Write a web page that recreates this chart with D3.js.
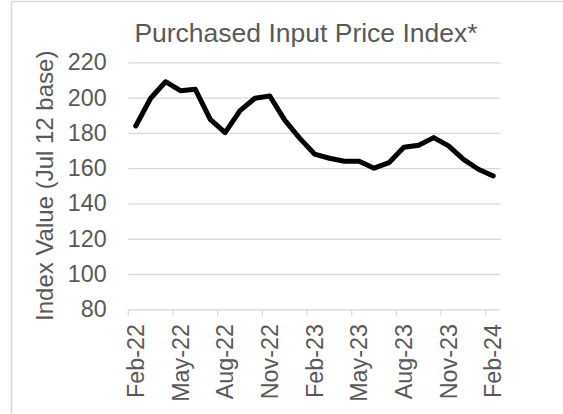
<!DOCTYPE html>
<html>
<head>
<meta charset="utf-8">
<script src="https://cdn.jsdelivr.net/npm/d3@7"></script>
<style>
  html, body { margin: 0; padding: 0; background: #fff; }
  svg { display: block; font-family: "Liberation Sans", Arial, sans-serif; }
</style>
</head>
<body>
<script>
// Monthly index values, Feb-22 .. Feb-24
const months = ["Feb-22","Mar-22","Apr-22","May-22","Jun-22","Jul-22","Aug-22","Sep-22","Oct-22","Nov-22","Dec-22",
                "Jan-23","Feb-23","Mar-23","Apr-23","May-23","Jun-23","Jul-23","Aug-23","Sep-23","Oct-23","Nov-23","Dec-23",
                "Jan-24","Feb-24"];
const values = [183.9, 199.6, 209.0, 203.9, 204.7, 187.7, 180.1, 192.6, 199.6, 200.9, 187.2,
                177.0, 168.0, 165.6, 163.9, 163.9, 160.0, 163.1, 171.8, 173.0, 177.3, 172.6, 165.0,
                159.4, 155.6];
const tickLabels = ["Feb-22","May-22","Aug-22","Nov-22","Feb-23","May-23","Aug-23","Nov-23","Feb-24"];
const yTicks = [80, 100, 120, 140, 160, 180, 200, 220];

const W = 563, H = 414;
const margin = { top: 62.3, left: 128.3, right: W - 500.7, bottom: H - 309.3 };
const width = W - margin.left - margin.right,
      height = H - margin.top - margin.bottom;

const textColor = "#595959", gridColor = "#d9d9d9";
const axisFont = "23.3px";

const svg = d3.select("body").append("svg")
    .attr("width", W)
    .attr("height", H);

// chart area border (cropped on right/bottom)
svg.append("rect")
    .attr("x", 11.5).attr("y", 1.5)
    .attr("width", W).attr("height", H)
    .attr("fill", "none")
    .attr("stroke", gridColor)
    .attr("stroke-width", 1.5);

const g = svg.append("g")
    .attr("transform", "translate(" + margin.left + "," + margin.top + ")");

// Scales
const x = d3.scaleBand().domain(months).range([0, width]).padding(0);
const y = d3.scaleLinear().domain([80, 220]).range([height, 0]);

// Y axis + gridlines
const yAxis = g.append("g")
    .call(d3.axisLeft(y).tickValues(yTicks).tickSize(-width).tickPadding(21.6));
yAxis.select(".domain").remove();
yAxis.selectAll(".tick line")
    .attr("stroke", gridColor)
    .attr("stroke-width", 1.3);
yAxis.selectAll(".tick text")
    .attr("fill", textColor)
    .style("font-size", axisFont);

// X axis ticks at band boundaries every 3 months
g.append("g").selectAll("line")
  .data(tickLabels)
  .enter().append("line")
    .attr("x1", d => x(d)).attr("x2", d => x(d))
    .attr("y1", height).attr("y2", height + 6.5)
    .attr("stroke", gridColor)
    .attr("stroke-width", 1.3);

g.append("g").selectAll("text")
  .data(tickLabels)
  .enter().append("text")
    .attr("transform", d => "translate(" + (x(d) + x.bandwidth() / 2) + "," + (height + 14.8) + ") rotate(-90)")
    .attr("text-anchor", "end")
    .attr("dy", "0.35em")
    .attr("fill", textColor)
    .style("font-size", axisFont)
    .text(d => d);

// Line
const line = d3.line()
    .x((d, i) => x(months[i]) + x.bandwidth() / 2)
    .y(d => y(d));

g.append("path")
    .datum(values)
    .attr("fill", "none")
    .attr("stroke", "#000")
    .attr("stroke-width", 5)
    .attr("stroke-linejoin", "round")
    .attr("stroke-linecap", "round")
    .attr("d", line);

// Title
svg.append("text")
    .attr("x", 306)
    .attr("y", 41.7)
    .attr("text-anchor", "middle")
    .attr("fill", textColor)
    .style("font-size", "26.5px")
    .text("Purchased Input Price Index*");

// Y axis title
svg.append("text")
    .attr("transform", "translate(52.5," + (margin.top + height / 2) + ") rotate(-90)")
    .attr("text-anchor", "middle")
    .attr("fill", textColor)
    .style("font-size", "24px")
    .text("Index Value (Jul 12 base)");
</script>
</body>
</html>
